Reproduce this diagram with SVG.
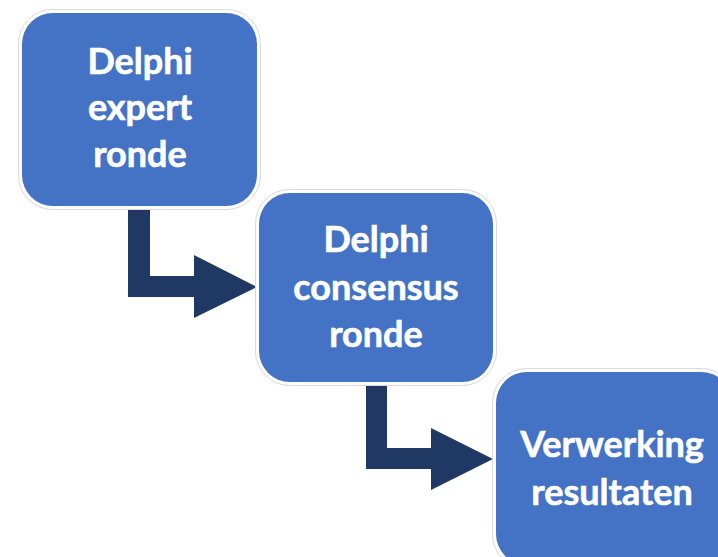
<svg xmlns="http://www.w3.org/2000/svg" width="718" height="557" viewBox="0 0 718 557">
<style>
.frame{fill:#ffffff;stroke:#d9d9d9;stroke-width:1}
.box{fill:#4472c4}
.lbl{font-family:Lato,"Open Sans","Liberation Sans",sans-serif;font-weight:bold;font-size:36px;fill:#ffffff;stroke:#ffffff;stroke-width:0.6;text-anchor:middle}
.arr{fill:#1f3864}
</style>
<rect width="718" height="557" fill="#ffffff"/>
<g id="connectors">
<path class="arr" d="M128,208 H150 V276 H194 V255 L257,287 L194,318 V297 H128 Z"/>
<path class="arr" d="M366,381 H387 V448 H431 V428 L493,459 L431,490 V469 H366 Z"/>
</g>
<g id="node1">
<rect class="frame" x="18.5" y="9.5" width="242" height="200" rx="34"/>
<rect class="box" x="22" y="13" width="235" height="193" rx="31"/>
<text class="lbl" x="140" y="74">Delphi</text>
<text class="lbl" x="140" y="120">expert</text>
<text class="lbl" x="140" y="167">ronde</text>
</g>
<g id="node2">
<rect class="frame" x="255.5" y="189.5" width="241" height="196" rx="34"/>
<rect class="box" x="259" y="193" width="234" height="189" rx="31"/>
<text class="lbl" x="376" y="252">Delphi</text>
<text class="lbl" x="376" y="300">consensus</text>
<text class="lbl" x="376" y="347">ronde</text>
</g>
<g id="node3">
<rect class="frame" x="492.5" y="368.5" width="243" height="200" rx="34"/>
<rect class="box" x="496" y="372" width="236" height="193" rx="31"/>
<text class="lbl" x="612" y="457">Verwerking</text>
<text class="lbl" x="612" y="505">resultaten</text>
</g>
</svg>
